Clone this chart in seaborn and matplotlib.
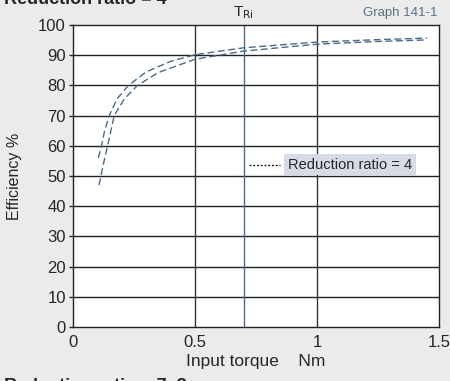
# Efficiency vs input torque, reduction ratio = 4
import pandas as pd
import matplotlib
matplotlib.use("Agg")
import matplotlib.pyplot as plt
import seaborn as sns

# curve 1 (upper)
torque_a = [0.104, 0.117, 0.13, 0.149, 0.18, 0.227, 0.3, 0.4, 0.5, 0.7, 1.0, 1.25, 1.45]
eff_a = [56, 60, 65, 70, 75.5, 80, 84.5, 88, 90.2, 92.5, 94.4, 95.2, 95.7]
# curve 2 (lower)
torque_b = [0.107, 0.125, 0.142, 0.169, 0.21, 0.264, 0.35, 0.5, 0.7, 1.0, 1.25, 1.45]
eff_b = [47, 54, 60, 70, 75.5, 80, 84.3, 88.7, 91.4, 93.7, 94.6, 95.1]

t_ri = 0.7
yticks = [0, 10, 20, 30, 40, 50, 60, 70, 80, 90, 100]
xticks = [0, 0.5, 1, 1.5]
xtick_labels = ["0", "0.5", "1", "1.5"]

df = pd.concat([
    pd.DataFrame({"torque": torque_a, "eff": eff_a, "curve": "a"}),
    pd.DataFrame({"torque": torque_b, "eff": eff_b, "curve": "b"}),
])

sns.set_style("white")
plt.rcParams["font.family"] = ["Liberation Sans", "DejaVu Sans"]

line_col = "#4d6a88"
fig = plt.figure(figsize=(4.5, 3.81), dpi=100, facecolor="#ebebeb")
ax = fig.add_axes([0.162, 0.142, 0.814, 0.792])
ax.set_facecolor("white")

for y in yticks[1:-1]:
    ax.axhline(y, color="#222222", lw=1.0, zorder=1)
for x in [0.5, 1.0]:
    ax.axvline(x, color="#333333", lw=1.0, zorder=1)
ax.axvline(t_ri, color=line_col, lw=1.0, zorder=1)

sns.lineplot(data=df, x="torque", y="eff", units="curve", estimator=None, sort=False,
             color=line_col, lw=1.0, dashes=False, ax=ax, zorder=3)
for ln in ax.get_lines()[-2:]:
    ln.set_linestyle((0, (5, 2.5)))

ax.set_xlim(0, 1.5)
ax.set_ylim(0, 100)
ax.set_xticks(xticks)
ax.set_xticklabels(xtick_labels)
ax.set_yticks(yticks)
ax.tick_params(axis="x", length=0, labelsize=12, pad=6)
ax.tick_params(axis="y", length=3, width=1, labelsize=12, pad=2, direction="out", left=True)
for s in ax.spines.values():
    s.set_color("#222222")
    s.set_linewidth(1.0)

ax.set_xlabel("Input torque    Nm", fontsize=12.5, labelpad=3)
ax.set_ylabel("Efficiency %", fontsize=11.5, labelpad=12)

# legend box
ax.plot([0.72, 0.85], [53.8, 53.8], color="black", lw=0.9, ls=(0, (1.5, 1.5)), zorder=4)
ax.text(0.88, 53.8, "Reduction ratio = 4", fontsize=10.5, va="center", ha="left", zorder=5,
        bbox=dict(boxstyle="square,pad=0.25", fc="#d5dce5", ec="none"))

ax.text(t_ri, 101.5, r"T$_{\mathrm{Ri}}$", ha="center", va="bottom", fontsize=11)
fig.text(0.972, 0.965, "Graph 141-1", ha="right", va="center", fontsize=9.5, color="#5c7088")
# section headings, partly outside the picture as in the original page crop
fig.text(0.01, 0.989, "Reduction ratio = 4", ha="left", va="baseline", fontsize=13, weight="bold")
fig.text(0.01, -0.026, "Reduction ratio = 7, 8", ha="left", va="baseline", fontsize=13, weight="bold")

fig.savefig("out.png", dpi=100, facecolor=fig.get_facecolor())
